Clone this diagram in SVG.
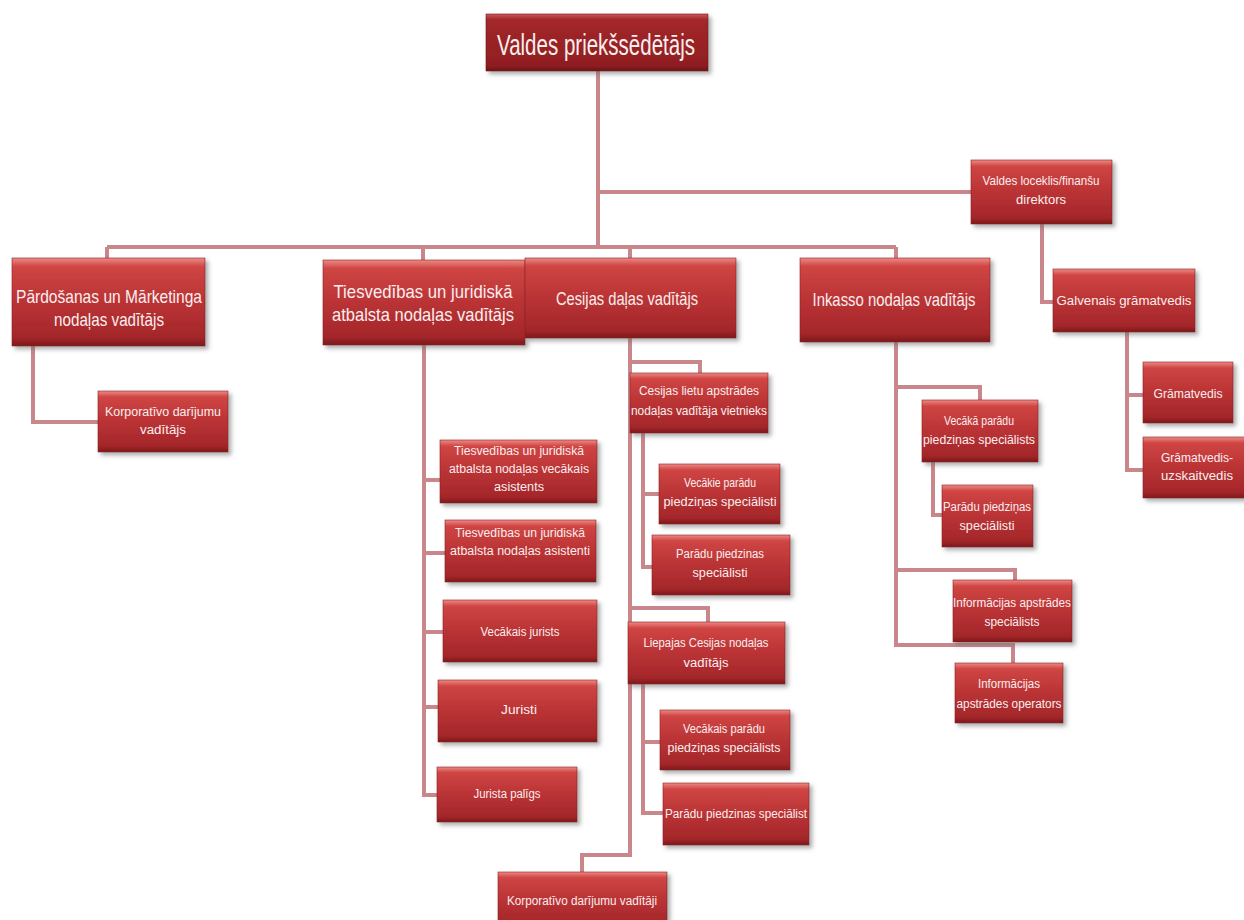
<svg xmlns="http://www.w3.org/2000/svg" width="1244" height="920" viewBox="0 0 1244 920">
<defs>
<linearGradient id="gBox" x1="0" y1="0" x2="0" y2="1">
<stop offset="0" stop-color="#ec8a86"/>
<stop offset="0.1" stop-color="#cf4543"/>
<stop offset="0.5" stop-color="#ba3335"/>
<stop offset="0.9" stop-color="#a4272a"/>
<stop offset="1" stop-color="#7d191c"/>
</linearGradient>
<linearGradient id="gTop" x1="0" y1="0" x2="0" y2="1">
<stop offset="0" stop-color="#c9585a"/>
<stop offset="0.1" stop-color="#a3272a"/>
<stop offset="0.9" stop-color="#8f1e21"/>
<stop offset="1" stop-color="#6e1416"/>
</linearGradient>
<filter id="sh" x="-10%" y="-10%" width="125%" height="130%">
<feDropShadow dx="3" dy="3" stdDeviation="2" flood-color="#6a6a6a" flood-opacity="0.55"/>
</filter>
</defs>
<style>
.box{fill:url(#gBox);filter:url(#sh);stroke:#8a1f22;stroke-width:0.6}
.top{fill:url(#gTop);filter:url(#sh);stroke:#6e1416;stroke-width:0.6}
text{font-family:"Liberation Sans",Arial,sans-serif;fill:#fbeeee;text-anchor:middle}
.t30{font-size:30px}
.t19{font-size:19px}
.t13{font-size:13px}
.t12{font-size:12.5px}
.conn path{fill:none;stroke:#c9868b;stroke-width:4}
</style>
<rect width="1244" height="920" fill="#ffffff"/>
<g class="conn" id="connectors">
<path d="M598,71 V247"/>
<path d="M598,192 H971"/>
<path d="M107,247 H896"/>
<path d="M107,247 V258 M423,247 V260 M630,247 V258 M896,247 V258"/>
<path d="M33,346 V422 H98"/>
<path d="M1042,224 V302 H1053"/>
<path d="M1127,332 V470 H1143 M1127,395 H1143"/>
<path d="M424,345 V795 H437 M424,480 H440 M424,553 H445 M424,632 H443 M424,707 H438"/>
<path d="M630,338 V855 H582 V872"/>
<path d="M630,362 H700 V373"/>
<path d="M643,433 V567 H652 M643,494 H659"/>
<path d="M630,608 H708 V622"/>
<path d="M643,684 V813 H663 M643,742 H660"/>
<path d="M896,342 V645 H1013 V663 M896,387 H980 V400 M896,570 H1015 V580"/>
<path d="M933,462 V515 H942"/>
</g>
<g id="n_chair"><rect class="top" x="486" y="14" width="222" height="57"/><text class="t30" x="596" y="55" textLength="198" lengthAdjust="spacingAndGlyphs">Valdes priekšsēdētājs</text></g>
<g id="n_board"><rect class="box" x="971" y="160" width="141" height="64"/><text class="t13" x="1041" y="185" textLength="117" lengthAdjust="spacingAndGlyphs">Valdes loceklis/finanšu</text><text class="t13" x="1041" y="204" textLength="50" lengthAdjust="spacingAndGlyphs">direktors</text></g>
<g id="n_sales"><rect class="box" x="12" y="258" width="193" height="88"/><text class="t19" x="109" y="303" textLength="186" lengthAdjust="spacingAndGlyphs">Pārdošanas un Mārketinga</text><text class="t19" x="109" y="326" textLength="110" lengthAdjust="spacingAndGlyphs">nodaļas vadītājs</text></g>
<g id="n_legal"><rect class="box" x="323" y="260" width="202" height="85"/><text class="t19" x="423" y="298" textLength="179" lengthAdjust="spacingAndGlyphs">Tiesvedības un juridiskā</text><text class="t19" x="423" y="321" textLength="182" lengthAdjust="spacingAndGlyphs">atbalsta nodaļas vadītājs</text></g>
<g id="n_cession"><rect class="box" x="525" y="258" width="211" height="80"/><text class="t19" x="627" y="305" textLength="142" lengthAdjust="spacingAndGlyphs">Cesijas daļas vadītājs</text></g>
<g id="n_collect"><rect class="box" x="800" y="258" width="190" height="84"/><text class="t19" x="894" y="306" textLength="163" lengthAdjust="spacingAndGlyphs">Inkasso nodaļas vadītājs</text></g>
<g id="n_corp1"><rect class="box" x="98" y="391" width="130" height="61"/><text class="t12" x="163" y="416" textLength="116" lengthAdjust="spacingAndGlyphs">Korporatīvo darījumu</text><text class="t12" x="163" y="434" textLength="46" lengthAdjust="spacingAndGlyphs">vadītājs</text></g>
<g id="n_chiefacc"><rect class="box" x="1053" y="269" width="142" height="63"/><text class="t12" x="1124" y="305" textLength="135" lengthAdjust="spacingAndGlyphs">Galvenais grāmatvedis</text></g>
<g id="n_acc"><rect class="box" x="1143" y="362" width="90" height="61"/><text class="t12" x="1188" y="398" textLength="69" lengthAdjust="spacingAndGlyphs">Grāmatvedis</text></g>
<g id="n_acc2"><rect class="box" x="1143" y="437" width="104" height="61"/><text class="t12" x="1197" y="462" textLength="72" lengthAdjust="spacingAndGlyphs">Grāmatvedis-</text><text class="t12" x="1197" y="480" textLength="72" lengthAdjust="spacingAndGlyphs">uzskaitvedis</text></g>
<g id="n_l1"><rect class="box" x="440" y="440" width="157" height="63"/><text class="t12" x="519" y="455" textLength="130" lengthAdjust="spacingAndGlyphs">Tiesvedības un juridiskā</text><text class="t12" x="519" y="473" textLength="140" lengthAdjust="spacingAndGlyphs">atbalsta nodaļas  vecākais</text><text class="t12" x="519" y="491" textLength="50" lengthAdjust="spacingAndGlyphs">asistents</text></g>
<g id="n_l2"><rect class="box" x="445" y="520" width="151" height="62"/><text class="t12" x="520" y="537" textLength="130" lengthAdjust="spacingAndGlyphs">Tiesvedības un juridiskā</text><text class="t12" x="520" y="555" textLength="140" lengthAdjust="spacingAndGlyphs">atbalsta nodaļas asistenti</text></g>
<g id="n_l3"><rect class="box" x="443" y="600" width="154" height="62"/><text class="t12" x="520" y="636" textLength="79" lengthAdjust="spacingAndGlyphs">Vecākais jurists</text></g>
<g id="n_l4"><rect class="box" x="438" y="680" width="159" height="62"/><text class="t12" x="519" y="714" textLength="36" lengthAdjust="spacingAndGlyphs">Juristi</text></g>
<g id="n_l5"><rect class="box" x="437" y="767" width="140" height="55"/><text class="t12" x="507" y="798" textLength="67" lengthAdjust="spacingAndGlyphs">Jurista palīgs</text></g>
<g id="n_c1"><rect class="box" x="630" y="373" width="138" height="60"/><text class="t12" x="699" y="395" textLength="120" lengthAdjust="spacingAndGlyphs">Cesijas lietu apstrādes</text><text class="t12" x="699" y="415" textLength="136" lengthAdjust="spacingAndGlyphs">nodaļas vadītāja vietnieks</text></g>
<g id="n_c2"><rect class="box" x="659" y="464" width="121" height="60"/><text class="t12" x="720" y="487" textLength="72" lengthAdjust="spacingAndGlyphs">Vecākie parādu</text><text class="t12" x="720" y="506" textLength="113" lengthAdjust="spacingAndGlyphs">piedziņas speciālisti</text></g>
<g id="n_c3"><rect class="box" x="652" y="535" width="138" height="60"/><text class="t12" x="720" y="558" textLength="88" lengthAdjust="spacingAndGlyphs">Parādu piedzinas</text><text class="t12" x="720" y="577" textLength="55" lengthAdjust="spacingAndGlyphs">speciālisti</text></g>
<g id="n_c4"><rect class="box" x="628" y="622" width="157" height="62"/><text class="t12" x="706" y="647" textLength="125" lengthAdjust="spacingAndGlyphs">Liepajas Cesijas nodaļas</text><text class="t12" x="706" y="667" textLength="45" lengthAdjust="spacingAndGlyphs">vadītājs</text></g>
<g id="n_c5"><rect class="box" x="660" y="710" width="130" height="60"/><text class="t12" x="724" y="733" textLength="82" lengthAdjust="spacingAndGlyphs">Vecākais parādu</text><text class="t12" x="724" y="752" textLength="113" lengthAdjust="spacingAndGlyphs">piedziņas speciālists</text></g>
<g id="n_c6"><rect class="box" x="663" y="783" width="146" height="62"/><text class="t12" x="736" y="818" textLength="142" lengthAdjust="spacingAndGlyphs">Parādu piedzinas speciālist</text></g>
<g id="n_c7"><rect class="box" x="498" y="872" width="169" height="56"/><text class="t12" x="582" y="905" textLength="150" lengthAdjust="spacingAndGlyphs">Korporatīvo darījumu vadītāji</text></g>
<g id="n_i1"><rect class="box" x="922" y="400" width="116" height="62"/><text class="t12" x="979" y="425" textLength="70" lengthAdjust="spacingAndGlyphs">Vecākā parādu</text><text class="t12" x="979" y="444" textLength="112" lengthAdjust="spacingAndGlyphs">piedziņas speciālists</text></g>
<g id="n_i2"><rect class="box" x="942" y="485" width="91" height="62"/><text class="t12" x="987" y="511" textLength="88" lengthAdjust="spacingAndGlyphs">Parādu piedziņas</text><text class="t12" x="987" y="530" textLength="55" lengthAdjust="spacingAndGlyphs">speciālisti</text></g>
<g id="n_i3"><rect class="box" x="953" y="580" width="119" height="62"/><text class="t12" x="1012" y="607" textLength="118" lengthAdjust="spacingAndGlyphs">Informācijas apstrādes</text><text class="t12" x="1012" y="626" textLength="55" lengthAdjust="spacingAndGlyphs">speciālists</text></g>
<g id="n_i4"><rect class="box" x="955" y="663" width="108" height="60"/><text class="t12" x="1009" y="688" textLength="62" lengthAdjust="spacingAndGlyphs">Informācijas</text><text class="t12" x="1009" y="708" textLength="105" lengthAdjust="spacingAndGlyphs">apstrādes operators</text></g>
</svg>
